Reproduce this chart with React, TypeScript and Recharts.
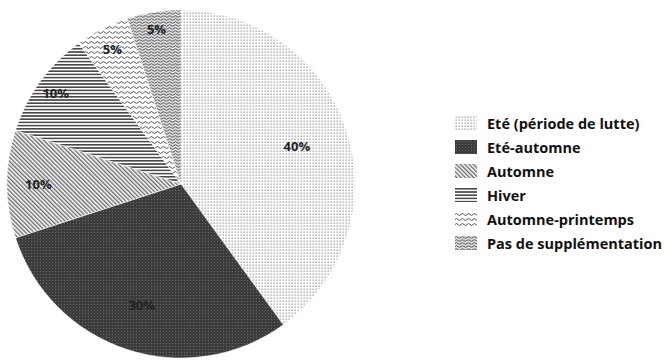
import React from 'react';
import { PieChart, Pie, Cell, Legend } from 'recharts';

const categories = [
  'Eté (période de lutte)',
  'Eté-automne',
  'Automne',
  'Hiver',
  'Automne-printemps',
  'Pas de supplémentation',
];
const shares = [40, 30, 10, 10, 5, 5];

const patternIds = ['pDots', 'pDark', 'pDiag', 'pHoriz', 'pWave', 'pWaveDense'];
// label distance from centre, as a fraction of the radius (small slices sit further out)
const labelRadius = [0.7, 0.73, 0.82, 0.89, 0.87, 0.9];

const chartData = categories.map((name, i) => ({ name, value: shares[i] }));

const Patterns = () => (
  <defs>
    <pattern id="pDots" width="3" height="3" patternUnits="userSpaceOnUse">
      <rect width="3" height="3" fill="#fff" />
      <rect x="0.5" y="0.5" width="1.3" height="1.3" fill="#9a9a9a" />
    </pattern>
    <pattern id="pDark" width="3" height="3" patternUnits="userSpaceOnUse">
      <rect width="3" height="3" fill="#3c3c3c" />
      <rect x="1" y="1" width="1" height="1" fill="#6a6a6a" />
    </pattern>
    <pattern id="pDiag" width="3" height="3" patternUnits="userSpaceOnUse" patternTransform="rotate(-45)">
      <rect width="3" height="3" fill="#fff" />
      <rect width="1.4" height="3" fill="#6a6a6a" />
    </pattern>
    <pattern id="pHoriz" width="4" height="3.2" patternUnits="userSpaceOnUse">
      <rect width="4" height="3.2" fill="#fff" />
      <rect width="4" height="1.6" fill="#4a4a4a" />
    </pattern>
    <pattern id="pWave" width="6" height="5" patternUnits="userSpaceOnUse">
      <rect width="6" height="5" fill="#fff" />
      <path d="M0 2.5 q1.5 -2 3 0 t3 0" stroke="#555" strokeWidth="1" fill="none" />
    </pattern>
    <pattern id="pWaveDense" width="6" height="3" patternUnits="userSpaceOnUse">
      <rect width="6" height="3" fill="#dcdcdc" />
      <path d="M0 1.5 q1.5 -1.6 3 0 t3 0" stroke="#5a5a5a" strokeWidth="1" fill="none" />
    </pattern>
  </defs>
);

const RADIAN = Math.PI / 180;

const renderLabel = (props: any) => {
  const { cx, cy, midAngle, outerRadius, index, value } = props;
  const r = outerRadius * labelRadius[index];
  const x = cx + r * Math.cos(-midAngle * RADIAN);
  const y = cy + r * Math.sin(-midAngle * RADIAN);
  return (
    <text
      x={x}
      y={y}
      textAnchor="middle"
      dominantBaseline="central"
      fill="#222"
      fontSize={13}
      fontWeight="bold"
      fontFamily="'Open Sans', sans-serif"
    >
      {value}%
    </text>
  );
};

const LegendContent = () => (
  <div style={{ fontFamily: "'Open Sans', sans-serif", fontWeight: 700, fontSize: 14.5, color: '#111' }}>
    {categories.map((name, i) => (
      <div key={name} style={{ display: 'flex', alignItems: 'center', height: 24, whiteSpace: 'nowrap' }}>
        <svg width={22} height={14} style={{ marginRight: 10, flexShrink: 0 }}>
          <rect width={22} height={14} fill={`url(#${patternIds[i]})`} />
        </svg>
        {name}
      </div>
    ))}
  </div>
);

export default function App() {
  return (
    <div style={{ position: 'absolute', left: 0, top: 0, width: 664, height: 361, overflow: 'hidden', background: '#fff' }}>
      <PieChart width={664} height={361} margin={{ top: 0, right: 0, bottom: 0, left: 0 }}>
        <Patterns />
        <Pie
          data={chartData}
          dataKey="value"
          nameKey="name"
          cx={181}
          cy={184}
          outerRadius={174}
          startAngle={90}
          endAngle={-270}
          stroke="#fff"
          strokeWidth={0.5}
          label={renderLabel}
          labelLine={false}
          isAnimationActive={false}
        >
          {chartData.map((d, i) => (
            <Cell key={d.name} fill={`url(#${patternIds[i]})`} />
          ))}
        </Pie>
        <Legend
          content={<LegendContent />}
          layout="vertical"
          wrapperStyle={{ position: 'absolute', left: 455, top: 111, width: 240 }}
        />
      </PieChart>
    </div>
  );
}
